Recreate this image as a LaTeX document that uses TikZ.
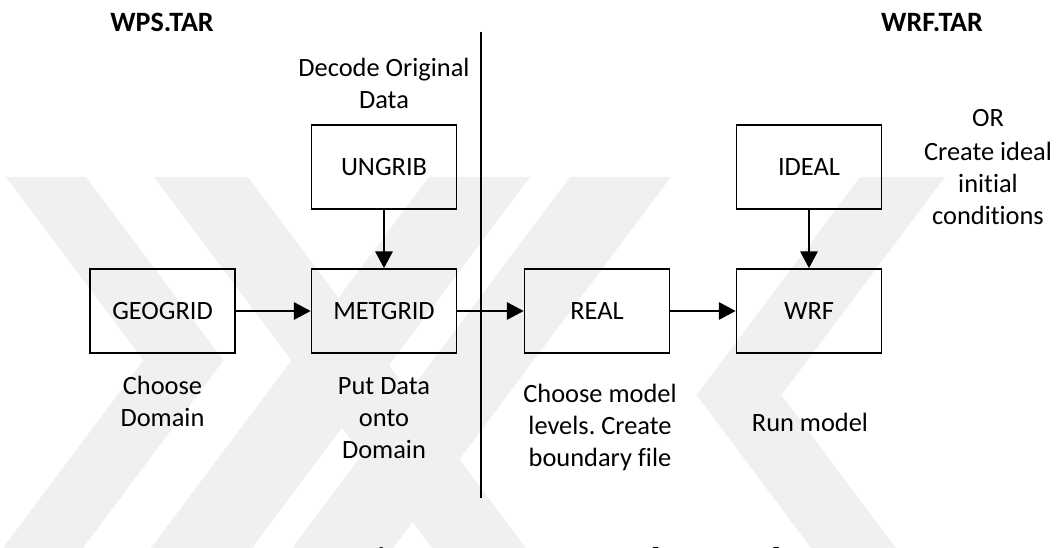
\documentclass[tikz,border=0pt]{standalone}
\usepackage{fontspec}
\setmainfont{Carlito}[Ligatures={NoCommon}]
\newfontfamily\capfont{Liberation Serif}
\usetikzlibrary{arrows.meta}
\newcommand\mylines[1]{\begin{tabular}[t]{@{}c@{}}#1\end{tabular}}
\frenchspacing
\begin{document}
\begin{tikzpicture}[x=0.75pt,y=-0.75pt,
  box/.style={draw,line width=1.3pt,minimum width=108.75pt,minimum height=63pt,inner sep=0pt,font=\fontsize{19.8}{24}\selectfont},
  lbl/.style={anchor=base,inner sep=0pt,font=\fontsize{19.8}{24}\selectfont},
  hdr/.style={anchor=base,inner sep=0pt,font=\bfseries\fontsize{21}{24}\selectfont},
  arr/.style={line width=1.3pt,-{Triangle[length=12.5pt,width=13pt]}},
  divider/.style={line width=1.3pt},
  wm/.style={fill=black!6,draw=none}]
\useasboundingbox (0,0) rectangle (1057,548);
% watermark
\fill[wm] (6,177) -- (86,177) -- (223.5,360.3) -- (44,600) -- (-36,600) -- (143.5,360.3) -- cycle;
\fill[wm] (154,177) -- (248,177) -- (565,600) -- (471,600) -- cycle;
\fill[wm] (429,177) -- (530,177) -- (213,600) -- (112,600) -- cycle;
\fill[wm] (570,177) -- (671,177) -- (354,600) -- (253,600) -- cycle;
\fill[wm] (860,177) -- (945,177) -- (781.5,395) -- (935,600) -- (850,600) -- (696.5,395) -- cycle;
% headers
\node[hdr] (wps) at (162,32) {WPS.TAR};
\node[hdr] (wrf-tar) at (932,32) {WRF.TAR};
% divider
\coordinate (vtop) at (481,32);
\coordinate (vbot) at (481,498);
\draw[divider] (vtop) -- (vbot);
% boxes
\node[box] (ungrib) at (384,167) {UNGRIB};
\node[box] (metgrid) at (384,311) {METGRID};
\node[box] (geogrid) at (162.5,311) {GEOGRID};
\node[box] (real) at (597,311) {REAL};
\node[box] (wrf) at (809,311) {WRF};
\node[box] (ideal) at (809,167) {IDEAL};
% arrows
\draw[arr] (geogrid.east) -- (metgrid.west);
\draw[arr] (metgrid.east) -- (real.west);
\draw[arr] (real.east) -- (wrf.west);
\draw[arr] (ungrib.south) -- (metgrid.north);
\draw[arr] (ideal.south) -- (wrf.north);
% labels
\node[lbl] (decode) at (384,77) {\mylines{Decode Original\\Data}};
\node[lbl] (choose) at (162.5,395) {\mylines{Choose\\Domain}};
\node[lbl] (put) at (384,395) {\mylines{Put Data\\onto\\Domain}};
\node[lbl] (levels) at (600,403) {\mylines{Choose model\\levels. Create\\boundary file}};
\node[lbl] (run) at (810,432) {Run model};
\node[lbl] (or) at (988,127) {OR};
\node[lbl] (ideal-txt) at (988,161) {\mylines{Create ideal\\initial\\conditions}};
% caption (cut off by the lower edge)
\node[anchor=base west,inner sep=0pt,font=\capfont\fontsize{26}{30}\selectfont] (cap) at (355,571) {\textbf{Figure 4.13} WPS and WRF Flow};
\end{tikzpicture}
\end{document}
